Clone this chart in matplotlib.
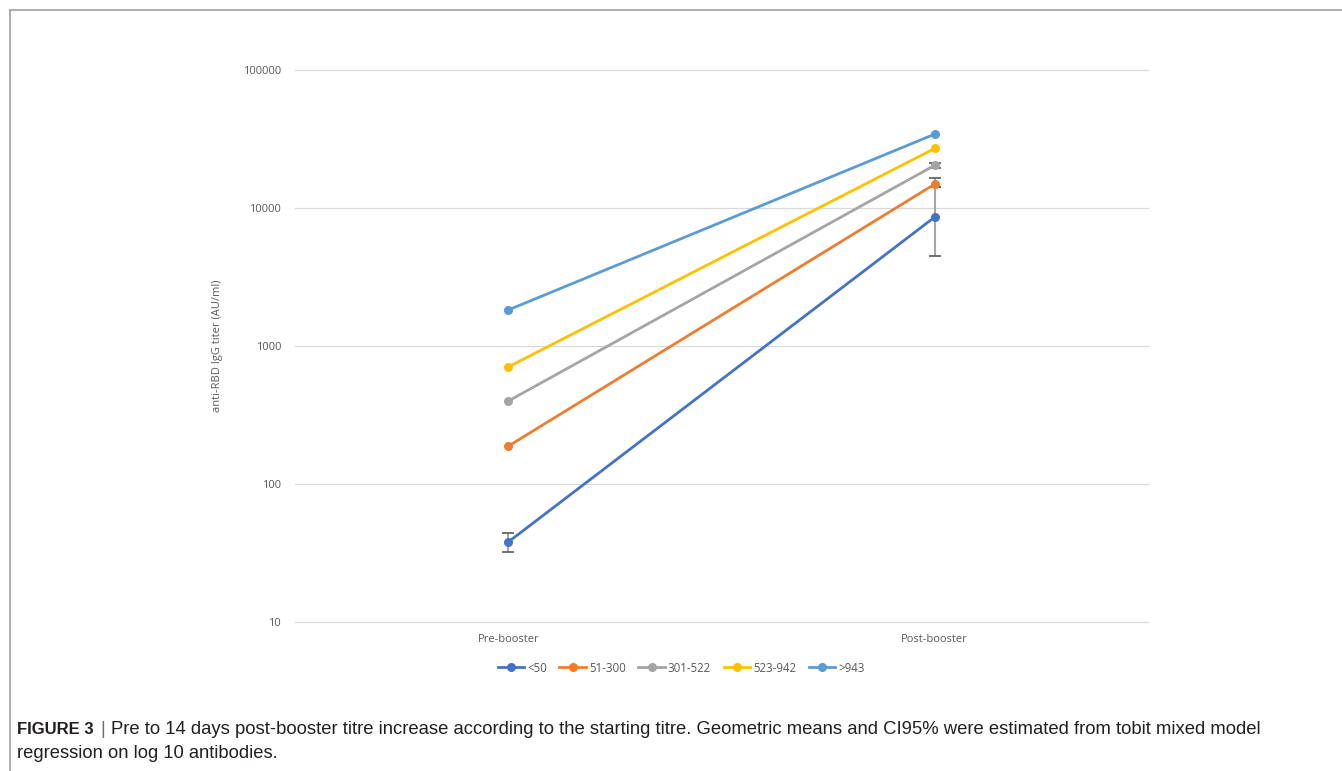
import numpy as np
import matplotlib
matplotlib.use("Agg")
import matplotlib.pyplot as plt
from matplotlib.lines import Line2D

# data (geometric means, AU/ml)
timepoints = ["Pre-booster", "Post-booster"]
groups = ["<50", "51-300", "301-522", "523-942", ">943"]
colors = ["#4472C4", "#ED7D31", "#A5A5A5", "#FFC000", "#5B9BD5"]
pre = [38, 188, 399, 705, 1824]
post = [8600, 14900, 20400, 27000, 34300]
# CI95 (low, high) where error bars are visible, None otherwise
pre_ci = [(32, 44), None, None, None, None]
post_ci = [(4500, 14200), (14200, 16400), (19500, 21200), None, None]
yticks = [10, 100, 1000, 10000, 100000]

W, H = 1342, 771
fig = plt.figure(figsize=(W / 100, H / 100), dpi=100)
ax = fig.add_axes([295 / W, 1 - 622 / H, (1148 - 295) / W, (622 - 70) / H])

x = np.arange(len(timepoints))
for i, g in enumerate(groups):
    ax.plot(x, [pre[i], post[i]], color=colors[i], lw=2.0, marker="o",
            ms=5.5, label=g, zorder=3)
    for xi, ci, mid in ((0, pre_ci[i], pre[i]), (1, post_ci[i], post[i])):
        if ci is None:
            continue
        err = [[mid - ci[0]], [ci[1] - mid]]
        _, caps, bars = ax.errorbar([xi], [mid], yerr=err, fmt="none",
                                    ecolor="#A6A6A6", elinewidth=1.5,
                                    capsize=4, capthick=1.2, zorder=2)
        for c in caps:
            c.set_markeredgecolor("#595959")

ax.set_yscale("log")
ax.set_ylim(10, 100000)
ax.set_xlim(-0.5, 1.5)
ax.set_yticks(yticks)
ax.set_yticklabels([str(t) for t in yticks])
ax.yaxis.set_minor_locator(matplotlib.ticker.NullLocator())
ax.set_xticks(x)
ax.set_xticklabels(timepoints)
ax.tick_params(length=0, labelsize=8, labelcolor="#595959", pad=10,
               labelfontfamily="Open Sans")
ax.tick_params(axis="x", pad=9)
ax.grid(axis="y", color="#D9D9D9", lw=0.9)
for gl in ax.get_ygridlines():
    gl.set_clip_on(False)
ax.set_axisbelow(True)
for s in ax.spines.values():
    s.set_visible(False)
ax.set_ylabel("anti-RBD IgG titer (AU/ml)", fontsize=8, color="#595959",
              family="Open Sans", labelpad=14)

leg = fig.legend(loc="center", bbox_to_anchor=(681 / W, 1 - 668 / H), ncol=5,
                 frameon=False, handlelength=2.3, columnspacing=1.1,
                 handletextpad=0.25, prop={"family": "Open Sans", "size": 8.3})
for t in leg.get_texts():
    t.set_color("#595959")

# open frame around the panel
fig.add_artist(Line2D([10 / W, 1], [1 - 10 / H, 1 - 10 / H], color="#A0A0A0", lw=1.2))
fig.add_artist(Line2D([10 / W, 10 / W], [0, 1 - 10 / H], color="#A0A0A0", lw=1.2))

# caption
cap_font = "Liberation Sans"
fig.text(17 / W, 1 - 730 / H, "FIGURE 3", fontsize=12, fontweight="bold",
         family=cap_font, va="center", color="#231F20")
fig.text(100 / W, 1 - 730 / H, "|", fontsize=13, family=cap_font,
         va="center", color="#6D6E71")
fig.text(111 / W, 1 - 730 / H,
         "Pre to 14 days post-booster titre increase according to the starting titre. "
         "Geometric means and CI95% were estimated from tobit mixed model",
         fontsize=13.3, family=cap_font, va="center", color="#231F20")
fig.text(17 / W, 1 - 753 / H, "regression on log 10 antibodies.", fontsize=13.2,
         family=cap_font, va="center", color="#231F20")

fig.savefig("out.png", dpi=100)
